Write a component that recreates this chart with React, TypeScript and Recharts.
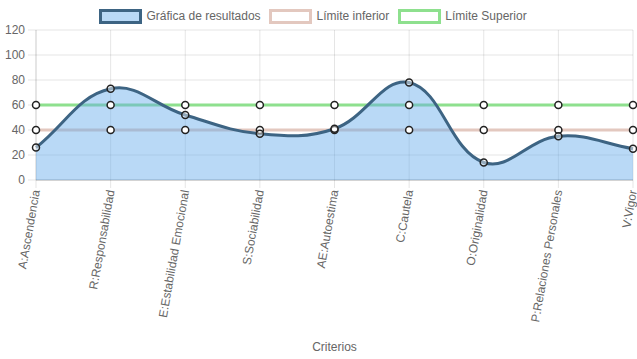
import React from 'react';
import { ComposedChart, Area, Line, XAxis, YAxis, CartesianGrid, Label } from 'recharts';

const categories = [
  'A:Ascendencia',
  'R:Responsabilidad',
  'E:Estabilidad Emocional',
  'S:Sociabilidad',
  'AE:Autoestima',
  'C:Cautela',
  'O:Originalidad',
  'P:Relaciones Personales',
  'V:Vigor',
];
const resultados = [26, 73, 52, 37, 41, 78, 14, 35, 25];
const limiteInferior = [40, 40, 40, 40, 40, 40, 40, 40, 40];
const limiteSuperior = [60, 60, 60, 60, 60, 60, 60, 60, 60];
const yTicks = [0, 20, 40, 60, 80, 100, 120];

const data = categories.map((c, i) => ({
  name: c,
  resultados: resultados[i],
  inferior: limiteInferior[i],
  superior: limiteSuperior[i],
}));

const FONT = '"Liberation Sans", Arial, Helvetica, sans-serif';
const TEXT = '#666';

// Chart.js-like cardinal spline (tension 0.4) as a d3 curve factory
function chartjsCurve(context: any) {
  let xs: number[] = [];
  let ys: number[] = [];
  let line = NaN;
  const t = 0.4;
  return {
    areaStart() { line = 0; },
    areaEnd() { line = NaN; },
    lineStart() { xs = []; ys = []; },
    point(x: any, y: any) { xs.push(+x); ys.push(+y); },
    lineEnd() {
      const n = xs.length;
      if (n) {
        if (line) context.lineTo(xs[0], ys[0]);
        else context.moveTo(xs[0], ys[0]);
        const prevCP: [number, number][] = [];
        const nextCP: [number, number][] = [];
        for (let i = 0; i < n; i++) {
          const p = i > 0 ? i - 1 : i;
          const q = i < n - 1 ? i + 1 : i;
          const d01 = Math.hypot(xs[i] - xs[p], ys[i] - ys[p]);
          const d12 = Math.hypot(xs[q] - xs[i], ys[q] - ys[i]);
          let s01 = d01 / (d01 + d12);
          let s12 = d12 / (d01 + d12);
          if (isNaN(s01)) s01 = 0;
          if (isNaN(s12)) s12 = 0;
          const fa = t * s01;
          const fb = t * s12;
          prevCP.push([xs[i] - fa * (xs[q] - xs[p]), ys[i] - fa * (ys[q] - ys[p])]);
          nextCP.push([xs[i] + fb * (xs[q] - xs[p]), ys[i] + fb * (ys[q] - ys[p])]);
        }
        for (let i = 1; i < n; i++) {
          context.bezierCurveTo(
            nextCP[i - 1][0], nextCP[i - 1][1],
            prevCP[i][0], prevCP[i][1],
            xs[i], ys[i]
          );
        }
      }
      if (line || (line !== 0 && n === 1)) context.closePath();
      line = 1 - line;
    },
  };
}

const XTick = (props: any) => {
  const { x, y, payload } = props;
  return (
    <g transform={`translate(${x},${y})`}>
      <text
        transform="rotate(-80)"
        textAnchor="end"
        dy={4}
        fill={TEXT}
        fontSize={12}
        fontFamily={FONT}
      >
        {payload.value}
      </text>
    </g>
  );
};

const dotStyle = { r: 3.5, fill: '#fff', stroke: '#222', strokeWidth: 1.5 };

const legendItems = [
  { label: 'Gráfica de resultados', border: '#3d6483', fill: '#b9d9f6' },
  { label: 'Límite inferior', border: '#e3c8bf', fill: '#fff' },
  { label: 'Límite Superior', border: '#8ee08e', fill: '#fff' },
];

export default function App() {
  return (
    <div style={{ position: 'absolute', left: 0, top: 0, width: 637, height: 359, background: '#fff', fontFamily: FONT }}>
      <ComposedChart
        width={637}
        height={359}
        data={data}
        margin={{ top: 30, right: 4, bottom: 0, left: 0 }}
      >
        <CartesianGrid stroke="rgba(0,0,0,0.1)" />
        <XAxis
          dataKey="name"
          scale="point"
          interval={0}
          height={179}
          tick={<XTick />}
          tickSize={8}
          tickMargin={2}
          tickLine={{ stroke: 'rgba(0,0,0,0.1)' }}
          axisLine={{ stroke: 'rgba(0,0,0,0.25)', strokeWidth: 1 }}
        >
          <Label value="Criterios" position="insideBottom" offset={8} fill={TEXT} fontSize={12} fontFamily={FONT} />
        </XAxis>
        <YAxis
          width={36}
          domain={[0, 120]}
          ticks={yTicks}
          interval={0}
          tickSize={8}
          tickMargin={3}
          tick={{ fill: TEXT, fontSize: 12, fontFamily: FONT }}
          tickLine={{ stroke: 'rgba(0,0,0,0.1)' }}
          axisLine={{ stroke: 'rgba(0,0,0,0.1)' }}
        />
        <Line
          dataKey="superior"
          type="linear"
          stroke="#8ee08e"
          strokeWidth={3}
          dot={dotStyle}
          activeDot={false}
          isAnimationActive={false}
          {...({ zIndex: 100 } as any)}
        />
        <Line
          dataKey="inferior"
          type="linear"
          stroke="#e3c8bf"
          strokeWidth={3}
          dot={dotStyle}
          activeDot={false}
          isAnimationActive={false}
          {...({ zIndex: 100 } as any)}
        />
        <Area
          dataKey="resultados"
          type={chartjsCurve as any}
          stroke="#3d6483"
          strokeWidth={3}
          fill="rgb(100,170,235)"
          fillOpacity={0.45}
          dot={dotStyle}
          activeDot={false}
          isAnimationActive={false}
          {...({ zIndex: 500 } as any)}
        />
      </ComposedChart>
      <div style={{ position: 'absolute', left: 99, top: 9, height: 15, display: 'flex', alignItems: 'center', fontSize: 12, color: TEXT, whiteSpace: 'nowrap' }}>
        {legendItems.map((it) => (
          <div key={it.label} style={{ display: 'flex', alignItems: 'center', marginRight: 8.5 }}>
            <div style={{ width: 37, height: 9, border: `3px solid ${it.border}`, background: it.fill }} />
            <span style={{ marginLeft: 4.5, lineHeight: '15px' }}>{it.label}</span>
          </div>
        ))}
      </div>
    </div>
  );
}
